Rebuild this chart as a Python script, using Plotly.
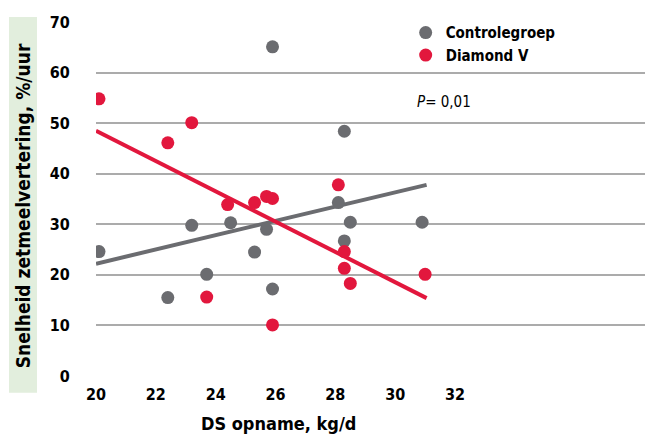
import plotly.graph_objects as go

# Controlegroep punten
ctrl_x = [20.1, 22.4, 23.2, 23.7, 24.5, 25.3, 25.7, 25.9, 25.9, 28.1, 28.3, 28.3, 28.5, 30.9]
ctrl_y = [24.6, 15.5, 29.8, 20.1, 30.3, 24.5, 29.0, 17.2, 65.1, 34.3, 48.4, 26.7, 30.4, 30.4]

# Diamond V punten
dv_x = [20.1, 22.4, 23.2, 23.7, 24.4, 25.3, 25.7, 25.9, 25.9, 28.1, 28.3, 28.3, 28.5, 31.0]
dv_y = [54.8, 46.1, 50.1, 15.6, 33.9, 34.3, 35.5, 35.1, 10.1, 37.8, 24.6, 21.3, 18.3, 20.1]

# trendlijnen (begin- en eindpunt)
trend_x = [20.0, 31.05]
ctrl_trend = [22.2, 37.8]
dv_trend = [48.5, 15.4]

x_ticks = [20, 22, 24, 26, 28, 30, 32]
y_ticks = [0, 10, 20, 30, 40, 50, 60, 70]

GRAY = '#6b6c70'
RED = '#e2173d'
FONT = 'DejaVu Sans Condensed, Liberation Sans Narrow, Arial Narrow, sans-serif'

fig = go.Figure()
fig.add_trace(go.Scatter(x=trend_x, y=ctrl_trend, mode='lines', showlegend=False,
                         line=dict(color=GRAY, width=4)))
fig.add_trace(go.Scatter(x=trend_x, y=dv_trend, mode='lines', showlegend=False,
                         line=dict(color=RED, width=4)))
fig.add_trace(go.Scatter(x=ctrl_x, y=ctrl_y, mode='markers', name='<b>Controlegroep</b>',
                         marker=dict(color=GRAY, size=13)))
fig.add_trace(go.Scatter(x=dv_x, y=dv_y, mode='markers', name='<b>Diamond V</b>',
                         marker=dict(color=RED, size=13)))

# pagina heeft 8px body-marge, dus figuur iets kleiner
fig.update_layout(
  width=645, height=434,
  margin=dict(l=88, r=5, t=8, b=66),
  paper_bgcolor='white', plot_bgcolor='white',
  font=dict(family=FONT, color='black', size=16),
  legend=dict(x=0.561, y=1.016, xanchor='left', yanchor='top',
              bgcolor='rgba(0,0,0,0)', font=dict(size=15, color='black'),
              itemwidth=30, tracegroupgap=0),
  shapes=[dict(type='rect', xref='paper', yref='paper',
               x0=-0.1576, x1=-0.1069, y0=-0.047, y1=1.014,
               fillcolor='#e2eedd', line=dict(width=0), layer='below')],
  annotations=[
    dict(text='<b>Snelheid zetmeelvertering, %/uur</b>', textangle=-90,
         xref='paper', yref='paper', x=-0.132, y=0.48, xanchor='center', yanchor='middle',
         showarrow=False, font=dict(size=19, color='black', family=FONT)),
    dict(text='<b>DS opname, kg/d</b>', xref='x', yref='paper', x=26.1, y=-0.133,
         showarrow=False, yanchor='middle', font=dict(size=18, color='black', family=FONT)),
    dict(text='<i>P</i>= 0,01', xref='paper', yref='y', x=0.578, y=54.2,
         xanchor='left', showarrow=False, font=dict(size=15, color='black', family=FONT)),
  ],
)
fig.update_xaxes(range=[20, 38.45], tickvals=x_ticks, ticktext=['<b>%d</b>' % v for v in x_ticks],
                 showgrid=False, zeroline=False, showline=False,
                 ticks='outside', ticklen=4, tickcolor='rgba(0,0,0,0)')
fig.update_yaxes(range=[0, 70], tickvals=y_ticks, ticktext=['<b>%d</b>' % v for v in y_ticks],
                 showgrid=True, gridcolor='#ababab', gridwidth=1.5, zeroline=False,
                 showline=False, ticks='outside', ticklen=22, tickcolor='rgba(0,0,0,0)')

fig.write_html("out.html")
